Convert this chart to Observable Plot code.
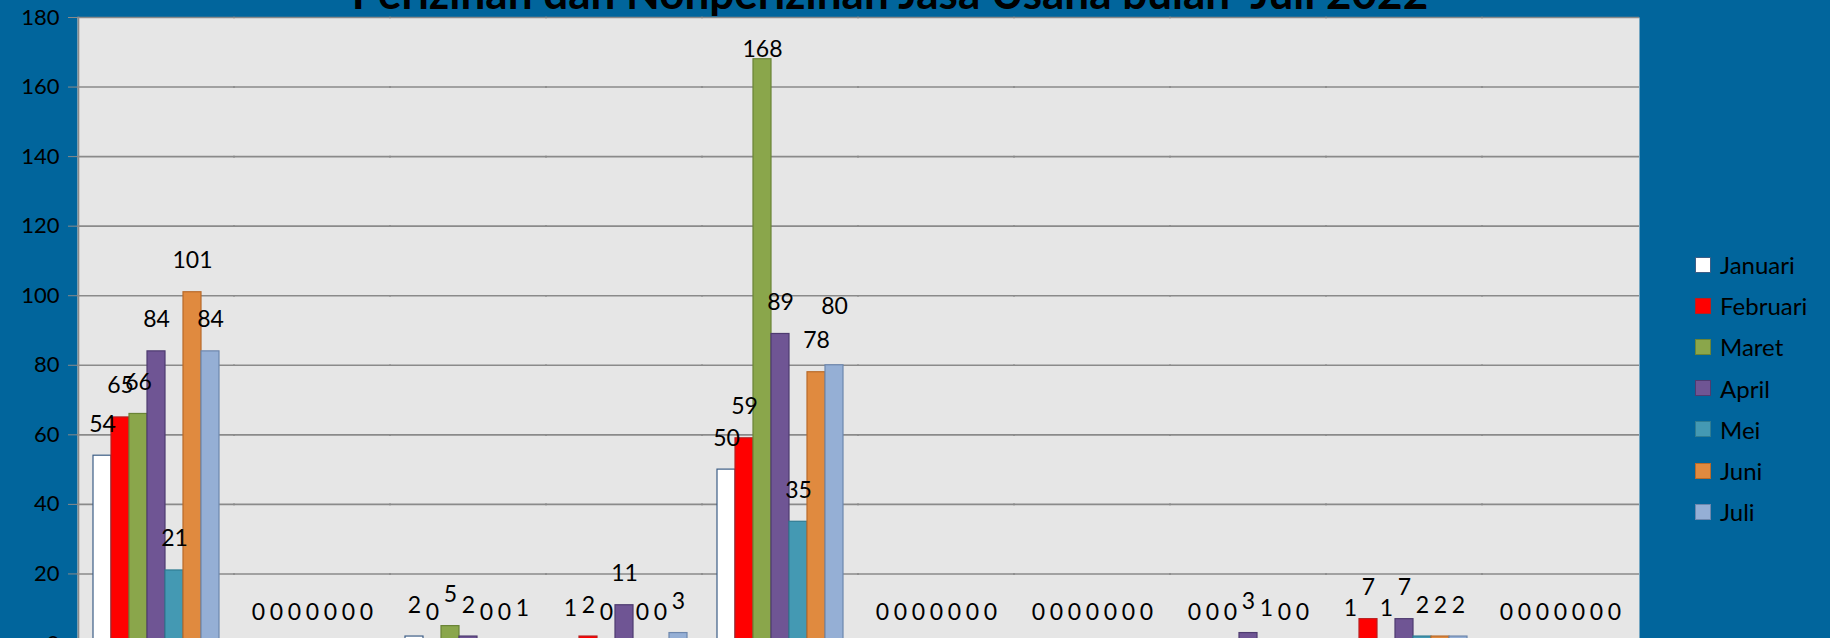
<!DOCTYPE html>
<html>
<head>
<meta charset="utf-8">
<script src="https://cdn.jsdelivr.net/npm/d3@7"></script>
<script src="https://cdn.jsdelivr.net/npm/@observablehq/plot@0.6"></script>
<style>
html, body { margin: 0; padding: 0; background: #01659c; overflow: hidden; width: 1830px; height: 638px; }
#wrap { position: relative; width: 1830px; height: 638px; font-family: Lato, "Open Sans", sans-serif; }
#title { position: absolute; left: 0; width: 1780px; top: -30px; text-align: center; font-size: 44px; font-weight: 700; line-height: 1; color: #000; white-space: pre; }
#chart { position: absolute; left: 0; top: 0; }
#legend { position: absolute; left: 1695px; top: 244px; }
.item { display: flex; align-items: center; height: 41.2px; font-size: 24px; color: #000; }
.sw { width: 14px; height: 14px; border: 1.5px solid; margin-right: 9px; box-sizing: content-box; }
</style>
</head>
<body>
<div id="wrap">
  <div id="chart"></div>
  <div id="title"></div>
  <div id="legend"></div>
</div>
<script>
const titleText = "Perizinan dan Nonperizinan Jasa Usaha bulan  Juli 2022";
const categories = ["1", "2", "3", "4", "5", "6", "7", "8", "9", "10"];
const months = ["Januari", "Februari", "Maret", "April", "Mei", "Juni", "Juli"];
const januari  = [54, 0, 2, 1, 50, 0, 0, 0, 1, 0];
const februari = [65, 0, 0, 2, 59, 0, 0, 0, 7, 0];
const maret    = [66, 0, 5, 0, 168, 0, 0, 0, 1, 0];
const april    = [84, 0, 2, 11, 89, 0, 0, 3, 7, 0];
const mei      = [21, 0, 0, 0, 35, 0, 0, 1, 2, 0];
const juni     = [101, 0, 0, 0, 78, 0, 0, 0, 2, 0];
const juli     = [84, 0, 1, 3, 80, 0, 0, 0, 2, 0];
const yTicks = [0, 20, 40, 60, 80, 100, 120, 140, 160, 180];

const fills   = ["#ffffff", "#ff0000", "#8aa64b", "#6f5594", "#4499b3", "#e08a3f", "#95afd5"];
const strokes = ["#3d5e86", "#b81f1f", "#6a8436", "#4e3b70", "#2f7c92", "#b86a2a", "#6d87ad"];

const series = [januari, februari, maret, april, mei, juni, juli];
const data = [];
categories.forEach((c, i) => {
  months.forEach((m, j) => data.push({cat: c, month: m, value: series[j][i]}));
});
const strokeOf = m => strokes[months.indexOf(m)];

// label placement groups (Excel pushed a few labels to avoid the plot top / a neighbour)
const nearTop = d => d.value > 160;
const lifted = d => d.cat === "5" && d.month === "Juli";
const normal = d => !nearTop(d) && !lifted(d);

document.getElementById("title").textContent = titleText;

const textOpts = {fx: "cat", x: "month", y: "value", text: d => String(d.value), lineAnchor: "bottom", fontSize: 23, fill: "#000"};

const chart = Plot.plot({
  width: 1830,
  height: 660,
  marginLeft: 76,
  marginRight: 190,
  marginTop: 17,
  marginBottom: 17,
  style: {background: "transparent", fontFamily: "Lato, 'Open Sans', sans-serif", fontSize: "22px", color: "#000", overflow: "visible"},
  fx: {domain: categories, padding: 0, axis: null},
  x: {domain: months, paddingInner: 0, paddingOuter: 0.75, axis: null},
  y: {domain: [0, 180], axis: null},
  color: {domain: months, range: fills},
  marks: [
    Plot.frame({fill: "#e6e6e6", stroke: null, insetLeft: -1, insetRight: -1}),
    Plot.gridY(yTicks, {stroke: "#8a8a8a", strokeOpacity: 1, strokeWidth: 1.6, insetLeft: -1, insetRight: -1}),
    Plot.frame({anchor: "left", stroke: "#8a8a8a", strokeWidth: 1.6, facetAnchor: "left"}),
    Plot.axisY(yTicks, {label: null, tickSize: 10, tickPadding: 9, stroke: "#8a8a8a", fill: "#000", fontSize: 22, facetAnchor: "left"}),
    Plot.barY(data, {fx: "cat", x: "month", y: "value", fill: "month", stroke: d => strokeOf(d.month), strokeWidth: 1.2}),
    Plot.text(data, {...textOpts, filter: normal, dy: -24}),
    Plot.text(data, {...textOpts, filter: nearTop, dy: -2}),
    Plot.text(data, {...textOpts, filter: lifted, dy: -51})
  ]
});
document.getElementById("chart").appendChild(chart);

const legend = d3.select("#legend");
months.forEach((m, i) => {
  const item = legend.append("div").attr("class", "item");
  item.append("div").attr("class", "sw").style("background", fills[i]).style("border-color", strokes[i]);
  item.append("span").text(m);
});
</script>
</body>
</html>
